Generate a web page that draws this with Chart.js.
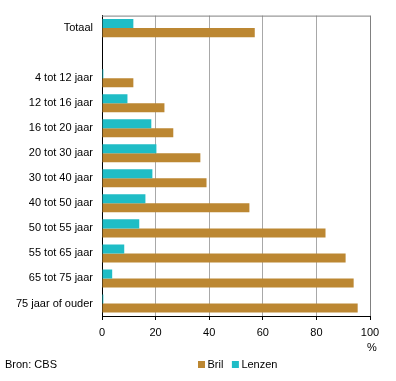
<!DOCTYPE html>
<html><head><meta charset="utf-8">
<script src="https://cdn.jsdelivr.net/npm/chart.js@4/dist/chart.umd.min.js"></script>
<style>html,body{margin:0;padding:0;background:#fff}#wrap{width:396px;height:381px}</style>
</head><body><div id="wrap"><canvas id="c" width="396" height="381"></canvas></div>
<script>
const categories = ["Totaal", "", "4 tot 12 jaar", "12 tot 16 jaar", "16 tot 20 jaar", "20 tot 30 jaar", "30 tot 40 jaar", "40 tot 50 jaar", "50 tot 55 jaar", "55 tot 65 jaar", "65 tot 75 jaar", "75 jaar of ouder"];
const lenzen = [11.7, null, 0.5, 9.5, 18.4, 20.3, 18.8, 16.2, 13.9, 8.3, 3.8, 0.5];
const bril = [57, null, 11.7, 23.3, 26.6, 36.7, 39, 55, 83.4, 90.9, 93.9, 95.4];
const xTicks = [0, 20, 40, 60, 80, 100];
const FONT = "'Liberation Sans', Arial, sans-serif";

const extras = {
  id: 'extras',
  afterDraw(chart) {
    const ctx = chart.ctx, a = chart.chartArea;
    ctx.save();
    ctx.strokeStyle = '#808080';
    ctx.lineWidth = 1;
    ctx.beginPath();
    ctx.moveTo(a.left, a.top + 0.5);
    ctx.lineTo(a.right + 0.5, a.top + 0.5);
    ctx.lineTo(a.right + 0.5, a.bottom);
    ctx.stroke();
    ctx.fillStyle = '#000';
    ctx.font = '11px ' + FONT;
    ctx.textBaseline = 'middle';
    ctx.textAlign = 'center';
    ctx.fillText('%', 372, 348);
    ctx.textAlign = 'left';
    ctx.fillText('Bron: CBS', 5, 365);
    // legend
    const items = [chart.data.datasets[1], chart.data.datasets[0]];
    let x = 198;
    items.forEach(ds => {
      ctx.fillStyle = ds.backgroundColor;
      ctx.fillRect(x, 361, 7, 7);
      ctx.fillStyle = '#000';
      ctx.fillText(ds.label, x + 9.5, 365);
      x += 9.5 + ctx.measureText(ds.label).width + 8.5;
    });
    ctx.restore();
  }
};

new Chart(document.getElementById('c'), {
  type: 'bar',
  data: {
    labels: categories,
    datasets: [
      { label: 'Lenzen', data: lenzen, backgroundColor: '#1FBDC6' },
      { label: 'Bril', data: bril, backgroundColor: '#BC8732' }
    ]
  },
  options: {
    indexAxis: 'y',
    responsive: false,
    animation: false,
    devicePixelRatio: 1,
    layout: { padding: { top: 15, right: 26, left: 0, bottom: 0 } },
    datasets: { bar: { categoryPercentage: 0.72, barPercentage: 1.0 } },
    plugins: { legend: { display: false }, tooltip: { enabled: false } },
    scales: {
      x: {
        min: 0, max: 100,
        afterBuildTicks: s => { s.ticks = xTicks.map(v => ({ value: v })); },
        afterFit: s => { s.height = 65; },
        grid: { color: ctx => ctx.tick && ctx.tick.value === 100 ? '#808080' : '#a8a8a8', tickColor: '#000', tickLength: 4, drawOnChartArea: true },
        border: { color: '#000', width: 1 },
        ticks: { color: '#000', font: { family: FONT, size: 11 }, padding: 6, maxRotation: 0 }
      },
      y: {
        afterFit: s => { s.width = 102; },
        grid: { display: false, drawTicks: false },
        border: { color: '#000', width: 1 },
        ticks: { color: '#000', font: { family: FONT, size: 11 }, padding: 9, autoSkip: false }
      }
    }
  },
  plugins: [extras]
});
</script></body></html>
